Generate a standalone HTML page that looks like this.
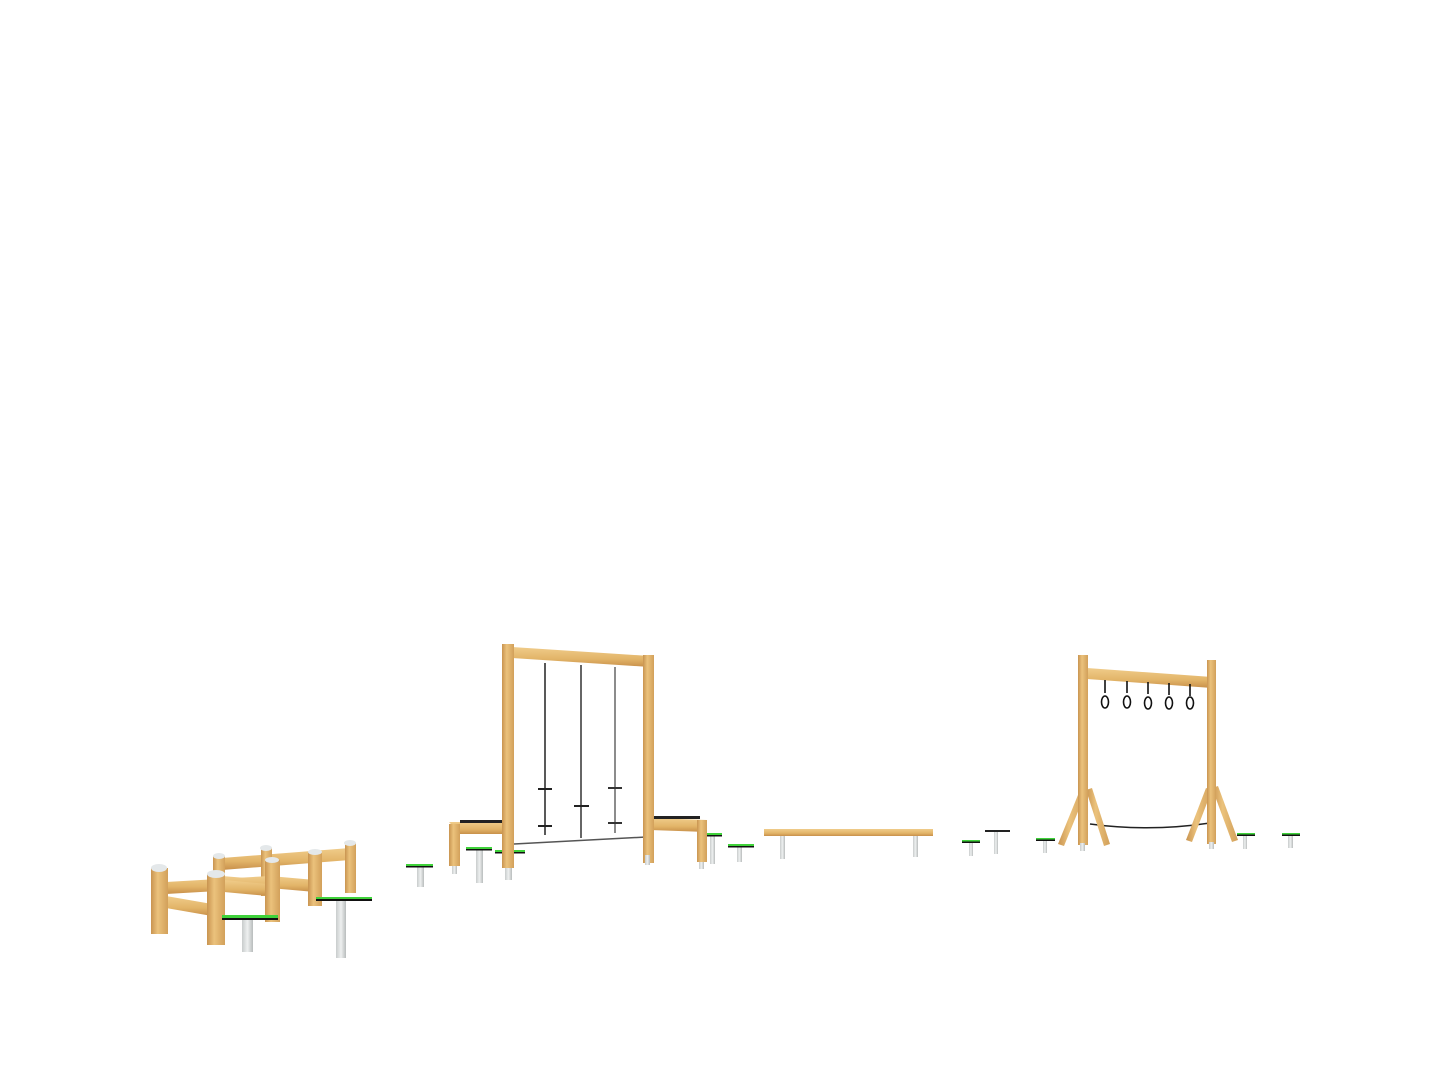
<!DOCTYPE html>
<html><head><meta charset="utf-8"><style>html,body{margin:0;padding:0;background:#fff}svg{display:block}</style></head>
<body>
<svg width="1441" height="1080" viewBox="0 0 1441 1080" xmlns="http://www.w3.org/2000/svg">
<defs>
<linearGradient id="wv" x1="0" x2="1" y1="0" y2="0"><stop offset="0" stop-color="#c99450"/><stop offset="0.4" stop-color="#ebc27c"/><stop offset="1" stop-color="#d2a05a"/></linearGradient>
<linearGradient id="wh" x1="0" x2="0" y1="0" y2="1"><stop offset="0" stop-color="#f0cc8a"/><stop offset="0.6" stop-color="#e2b468"/><stop offset="1" stop-color="#c8904a"/></linearGradient>
<linearGradient id="st" x1="0" x2="1"><stop offset="0" stop-color="#c8cccc"/><stop offset="0.5" stop-color="#eef0f0"/><stop offset="1" stop-color="#b8bcbc"/></linearGradient>
</defs>
<rect width="1441" height="1080" fill="#fff"/>

<!-- LEFT FENCE -->
<g>
<!-- back rails -->
<polygon points="222,858 350,848 350,860 222,870" fill="url(#wh)"/>
<polygon points="270,876 315,880 315,892 270,888" fill="url(#wh)"/>
<polygon points="222,876 270,880 270,892 222,888" fill="url(#wh)"/>
<!-- back posts -->
<rect x="213" y="856" width="12" height="44" fill="url(#wv)"/>
<rect x="261" y="848" width="11" height="48" fill="url(#wv)"/>
<rect x="308" y="852" width="14" height="54" fill="url(#wv)"/>
<rect x="345" y="843" width="11" height="50" fill="url(#wv)"/>
<!-- front rails -->
<polygon points="166,882 270,876 270,888 166,894" fill="url(#wh)"/>
<polygon points="166,896 212,904 212,916 166,908" fill="url(#wh)"/>
<polygon points="224,880 268,884 268,896 224,892" fill="url(#wh)"/>
<!-- front posts -->
<rect x="151" y="868" width="17" height="66" fill="url(#wv)"/>
<rect x="207" y="874" width="18" height="71" fill="url(#wv)"/>
<rect x="265" y="860" width="15" height="62" fill="url(#wv)"/>
<ellipse cx="159" cy="868" rx="8" ry="4" fill="#e4e8ea"/>
<ellipse cx="216" cy="874" rx="9" ry="4" fill="#e4e8ea"/>
<ellipse cx="272" cy="860" rx="7" ry="3" fill="#e4e8ea"/>
<ellipse cx="219" cy="856" rx="6" ry="3" fill="#e4e8ea"/>
<ellipse cx="266" cy="848" rx="6" ry="3" fill="#e4e8ea"/>
<ellipse cx="315" cy="852" rx="7" ry="3" fill="#e4e8ea"/>
<ellipse cx="350" cy="843" rx="6" ry="3" fill="#e4e8ea"/>
</g>

<!-- stepping stones -->
<g>
<rect x="242" y="918" width="11" height="34" fill="url(#st)"/><rect x="222" y="915" width="56" height="4" fill="#3fd23a"/><rect x="222" y="918" width="56" height="2" fill="#111"/>
<rect x="336" y="900" width="10" height="58" fill="url(#st)"/><rect x="316" y="897" width="56" height="3" fill="#3fd23a"/><rect x="316" y="899" width="56" height="2" fill="#111"/>
<rect x="417" y="867" width="7" height="20" fill="url(#st)"/><rect x="406" y="864" width="27" height="3" fill="#3fd23a"/><rect x="406" y="866" width="27" height="1.5" fill="#111"/>
<rect x="476" y="850" width="7" height="33" fill="url(#st)"/><rect x="466" y="847" width="26" height="3" fill="#3fd23a"/><rect x="466" y="849" width="26" height="1.5" fill="#111"/>
<rect x="505" y="853" width="7" height="27" fill="url(#st)"/><rect x="495" y="850" width="30" height="3" fill="#3fd23a"/><rect x="495" y="852" width="30" height="1.5" fill="#111"/>
<rect x="710" y="836" width="5" height="28" fill="url(#st)"/><rect x="706" y="833" width="16" height="2.5" fill="#3fd23a"/><rect x="706" y="835" width="16" height="1.5" fill="#111"/>
<rect x="737" y="847" width="5" height="15" fill="url(#st)"/><rect x="728" y="844" width="26" height="2.5" fill="#3fd23a"/><rect x="728" y="846" width="26" height="1.5" fill="#111"/>
<rect x="969" y="842" width="4" height="14" fill="url(#st)"/><rect x="962" y="840" width="18" height="2" fill="#3fd23a"/><rect x="962" y="841.5" width="18" height="1.5" fill="#111"/>
<rect x="994" y="831" width="4" height="23" fill="url(#st)"/><rect x="985" y="830" width="25" height="2" fill="#222"/>
<rect x="1043" y="840" width="4" height="13" fill="url(#st)"/><rect x="1036" y="838" width="19" height="2" fill="#3fd23a"/><rect x="1036" y="839.5" width="19" height="1.5" fill="#111"/>
<rect x="1243" y="835" width="4" height="14" fill="url(#st)"/><rect x="1237" y="833" width="18" height="2" fill="#3fd23a"/><rect x="1237" y="834.5" width="18" height="1.5" fill="#111"/>
<rect x="1288" y="835" width="5" height="13" fill="url(#st)"/><rect x="1282" y="833" width="18" height="2" fill="#3fd23a"/><rect x="1282" y="834.5" width="18" height="1.5" fill="#111"/>
</g>

<!-- SWING FRAME -->
<g>
<!-- side benches -->
<rect x="452" y="866" width="5" height="8" fill="url(#st)"/>
<polygon points="449,822 505,822 505,834 460,834" fill="url(#wh)"/>
<rect x="449" y="824" width="11" height="42" fill="url(#wv)"/>
<rect x="460" y="820" width="44" height="3" fill="#222"/>
<rect x="699" y="862" width="5" height="7" fill="url(#st)"/>
<polygon points="650,818 707,820 707,832 650,830" fill="url(#wh)"/>
<rect x="697" y="820" width="10" height="42" fill="url(#wv)"/>
<rect x="652" y="816" width="48" height="3" fill="#222"/>
<!-- bottom rope -->
<line x1="514" y1="844" x2="646" y2="837" stroke="#555" stroke-width="1.5"/>
<!-- ropes -->
<line x1="545" y1="663" x2="545" y2="835" stroke="#222" stroke-width="1.5"/>
<line x1="581" y1="665" x2="581" y2="838" stroke="#333" stroke-width="1.5"/>
<line x1="615" y1="667" x2="615" y2="833" stroke="#666" stroke-width="1.5"/>
<rect x="538" y="788" width="14" height="2" fill="#222"/><rect x="538" y="825" width="14" height="2" fill="#222"/>
<rect x="574" y="805" width="15" height="2" fill="#222"/>
<rect x="608" y="787" width="14" height="2" fill="#333"/><rect x="608" y="822" width="14" height="2" fill="#333"/>
<!-- beam -->
<polygon points="512,647 650,656 650,667 512,658" fill="url(#wh)"/>
<!-- posts -->
<rect x="502" y="644" width="12" height="224" fill="url(#wv)"/>
<rect x="643" y="655" width="11" height="208" fill="url(#wv)"/>
<rect x="645" y="855" width="5" height="10" fill="url(#st)"/>
</g>

<!-- BALANCE BEAM -->
<g>
<rect x="780" y="835" width="5" height="24" fill="url(#st)"/>
<rect x="913" y="835" width="5" height="22" fill="url(#st)"/>
<rect x="764" y="829" width="169" height="7" fill="url(#wh)"/>
</g>

<!-- RINGS FRAME -->
<g>
<path d="M1090,824 Q1150,832 1210,823" stroke="#222" stroke-width="1.5" fill="none"/>
<polygon points="1087,668 1212,677 1212,688 1087,679" fill="url(#wh)"/>
<g stroke="#111" stroke-width="1.6" fill="none">
<line x1="1105" y1="680" x2="1105" y2="693"/><ellipse cx="1105" cy="702" rx="3.5" ry="6"/>
<line x1="1127" y1="681" x2="1127" y2="693"/><ellipse cx="1127" cy="702" rx="3.5" ry="6"/>
<line x1="1148" y1="682" x2="1148" y2="694"/><ellipse cx="1148" cy="703" rx="3.5" ry="6"/>
<line x1="1169" y1="683" x2="1169" y2="695"/><ellipse cx="1169" cy="703" rx="3.5" ry="6"/>
<line x1="1190" y1="684" x2="1190" y2="696"/><ellipse cx="1190" cy="703" rx="3.5" ry="6"/>
</g>
<!-- left legs -->
<polygon points="1080,790 1086,792 1064,846 1058,844" fill="url(#wv)"/>
<polygon points="1086,790 1092,788 1110,844 1104,846" fill="url(#wv)"/>
<rect x="1078" y="655" width="10" height="190" fill="url(#wv)"/>
<rect x="1080" y="843" width="5" height="8" fill="url(#st)"/>
<!-- right legs -->
<polygon points="1206,788 1212,790 1192,842 1186,840" fill="url(#wv)"/>
<polygon points="1212,788 1218,786 1238,840 1232,842" fill="url(#wv)"/>
<rect x="1207" y="660" width="9" height="184" fill="url(#wv)"/>
<rect x="1209" y="842" width="5" height="7" fill="url(#st)"/>
</g>
</svg>
</body></html>
